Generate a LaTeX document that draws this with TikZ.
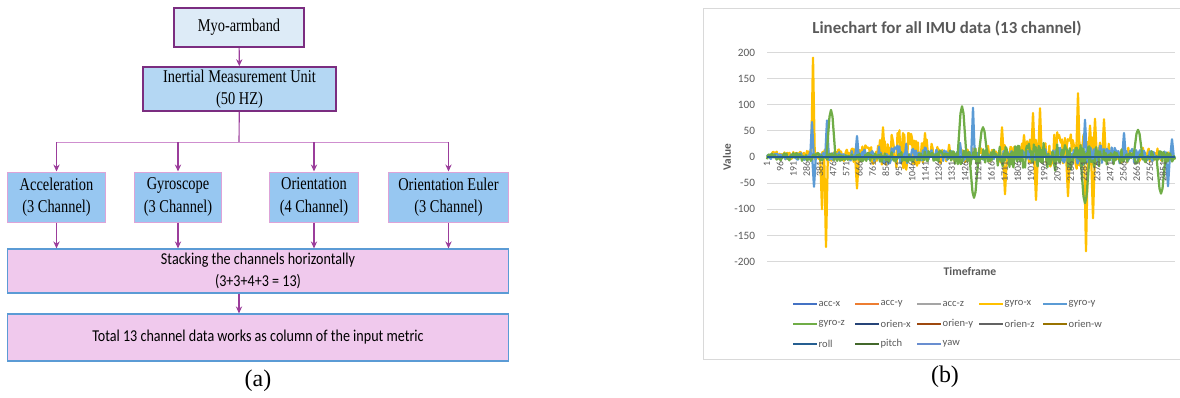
\documentclass[tikz,border=0pt]{standalone}
\usepackage{fontspec}
\usetikzlibrary{arrows.meta}
\setmainfont{Liberation Serif}
\newfontfamily\boxfont{Liberation Serif}[FakeStretch=0.8]
\newfontfamily\sansbox{Carlito}[FakeStretch=0.85]
\newfontfamily\chartfont{Carlito}
\definecolor{arrpurple}{HTML}{9B3D9B}
\definecolor{darkpurple}{HTML}{7B2D80}
\definecolor{buspink}{HTML}{CF8FCF}
\definecolor{lightblue}{HTML}{DDEBF7}
\definecolor{midblue}{HTML}{B4D7F3}
\definecolor{sensblue}{HTML}{97C7F1}
\definecolor{senspink}{HTML}{DDA3D8}
\definecolor{mergepink}{HTML}{F0C9ED}
\definecolor{mergeblue}{HTML}{5B9BD5}
\definecolor{gridgray}{HTML}{D9D9D9}
\definecolor{txtgray}{HTML}{595959}
\definecolor{accx}{HTML}{4472C4}
\definecolor{accy}{HTML}{ED7D31}
\definecolor{accz}{HTML}{A5A5A5}
\definecolor{gyrx}{HTML}{FFC000}
\definecolor{gyry}{HTML}{5B9BD5}
\definecolor{gyrz}{HTML}{70AD47}
\definecolor{orix}{HTML}{264478}
\definecolor{oriy}{HTML}{9E480E}
\definecolor{oriz}{HTML}{636363}
\definecolor{oriw}{HTML}{997300}
\definecolor{rollc}{HTML}{255E91}
\definecolor{pitchc}{HTML}{43682B}
\definecolor{yawc}{HTML}{698ED0}
\tikzset{
  flowbox/.style={rectangle, inner sep=0pt, align=center, font=\boxfont\fontsize{12.8}{16}\selectfont},
  topbox/.style={flowbox, draw=darkpurple, line width=1.1pt},
  sensbox/.style={flowbox, fill=sensblue, draw=senspink, line width=0.7pt, minimum height=1.25cm},
  mergebox/.style={rectangle, inner sep=0pt, align=center, fill=mergepink, draw=mergeblue, line width=0.8pt,
    minimum width=12.5cm, font=\sansbox\fontsize{11.8}{15.6}\selectfont},
  arr/.style={->, arrpurple, line width=0.8pt},
  series/.style={line width=1.6pt, line join=round},
  ticklab/.style={anchor=east, text=txtgray, font=\chartfont\fontsize{8}{9}\selectfont},
  catlab/.style={anchor=east, rotate=90, text=txtgray, inner sep=1pt, font=\chartfont\fontsize{7}{8}\selectfont},
  leglab/.style={anchor=west, inner sep=1pt, text=txtgray, font=\chartfont\fontsize{7.5}{9}\selectfont},
}
\begin{document}
\begin{tikzpicture}[x=0.025cm, y=-0.025cm, >={Stealth[length=5pt, width=4.5pt]}]
\useasboundingbox (0,0) rectangle (1180,397);
\begin{scope}
\node[topbox, fill=lightblue, minimum width=3.25cm, minimum height=0.975cm] (myo) at (239,27.5) {Myo-armband};
\node[topbox, fill=midblue, minimum width=4.825cm, minimum height=1.1cm] (imu) at (239.5,89) {Inertial Measurement Unit\\(50 HZ)};
\node[sensbox, minimum width=2.425cm] (acc) at (56.5,197) {Acceleration\\(3 Channel)};
\node[sensbox, minimum width=2.15cm] (gyro) at (178,197) {Gyroscope\\(3 Channel)};
\node[sensbox, minimum width=2.2cm] (orient) at (314,197) {Orientation\\(4 Channel)};
\node[sensbox, minimum width=2.975cm] (euler) at (448.5,197) {Orientation Euler\\(3 Channel)};
\node[mergebox, minimum height=1.1cm] (stack) at (258,271) {Stacking the channels horizontally\\(3+3+4+3 = 13)};
\node[mergebox, minimum height=1.175cm] (total) at (258,337.5) {Total 13 channel data works as column of the input metric};
\coordinate (bus) at (239,142);
\draw[arr] (myo) -- (imu);
\draw[arrpurple, line width=0.8pt] (imu) -- (bus);
\draw[buspink, line width=0.6pt] (acc.north |- bus) -- (euler.north |- bus);
\foreach \s in {acc, gyro, orient, euler}
{
    \draw[arr] (\s.north |- bus) -- (\s);
    \draw[arr] (\s) -- (\s.south |- stack.north);
}
\draw[arr] (stack.south -| bus) -- (total.north -| bus);
\node[font=\fontsize{17}{19}\selectfont, inner sep=0pt] (capa) at (258,381) {(a)};
\end{scope}
\begin{scope}
\draw[gridgray, line width=0.6pt] (1180,8) -- (703,8) -- (703,359) -- (1180,359);
\node[text=txtgray, font=\chartfont\bfseries\fontsize{12}{14}\selectfont] (title) at (947,29) {Linechart for all IMU data (13 channel)};
\foreach \v in {200,150,...,-200}
{
    \draw[gridgray, line width=0.6pt] (767,{157-0.523*\v}) -- (1175,{157-0.523*\v});
    \node[ticklab] (tick\v) at (760,{157-0.523*\v}) {\v};
}
\node[rotate=90, text=txtgray, font=\chartfont\bfseries\fontsize{8}{9}\selectfont] (ylab) at (727,157) {Value};
\node[text=txtgray, font=\chartfont\bfseries\fontsize{8.3}{10}\selectfont] (xlab) at (970,271) {Timeframe};
\pgfmathsetseed{11}
\draw[series, gyrx] plot[domain=767:1175, samples=420]
  (\x, {157-0.523*(7+32/(1+((\x-905)/25)*((\x-905)/25))+30/(1+((\x-1065)/40)*((\x-1065)/40)))*(rand+0.35)});
\foreach \px/\pv in {813/190, 822/-100, 826/-172, 857/-60, 883/57, 903/46, 925/46, 1002/57, 1005/-71,
  1024/42, 1033/84, 1036/-82, 1040/93, 1068/-75, 1078/122, 1086/-180, 1090/60, 1093/-117, 1095/73, 1104/72}
  \draw[series, gyrx] (\px-1.8,157) -- (\px,{157-0.523*\pv}) -- (\px+1.8,157);
\draw[series, gyry] plot[domain=767:1175, samples=420]
  (\x, {157-0.523*(5+16/(1+((\x-900)/30)*((\x-900)/30))+14/(1+((\x-1090)/45)*((\x-1090)/45)))*(rand+0.2)});
\foreach \px/\pv in {812/67, 814/-57, 827/70, 857/40, 960/27, 973/94, 1085/71, 1124/46, 1168/-56, 1172/34}
  \draw[series, gyry] (\px-1.8,157) -- (\px,{157-0.523*\pv}) -- (\px+1.8,157);
\draw[series, gyrz] plot[domain=767:1175, samples=420]
  (\x, {157-0.523*(6+22/(1+((\x-1045)/65)*((\x-1045)/65)))*rand});
\foreach \px/\pv in {831/90, 962/97, 974/-78, 983/57, 1085/-88, 1138/52, 1161/-70}
  \draw[series, gyrz] (\px-4.5,157) -- (\px-1.5,{157-0.45*\pv}) -- (\px,{157-0.523*\pv}) -- (\px+1.5,{157-0.45*\pv}) -- (\px+4.5,157);
\draw[series, rollc] (767,157) -- (1175,157);
\foreach \k in {0,...,30}
{
    \pgfmathtruncatemacro\lab{1+95*\k}
    \node[catlab] (cat\k) at ({767+13.2*\k},160) {\lab};
}
\foreach \i/\nm/\col/\lx/\ly in {1/acc-x/accx/793/304, 2/acc-y/accy/855/304, 3/acc-z/accz/917/304,
  4/gyro-x/gyrx/979/304, 5/gyro-y/gyry/1043/304, 6/gyro-z/gyrz/793/324, 7/orien-x/orix/855/324,
  8/orien-y/oriy/917/324, 9/orien-z/oriz/979/324, 10/orien-w/oriw/1043/324, 11/roll/rollc/793/344,
  12/pitch/pitchc/855/344, 13/yaw/yawc/917/344}
{
    \draw[\col, line width=1.5pt] (\lx,\ly) -- (\lx+24,\ly);
    \node[leglab] (leg\i) at (\lx+24,\ly) {\nm};
}
\node[font=\fontsize{17}{19}\selectfont, inner sep=0pt] (capb) at (945,377) {(b)};
\end{scope}
\end{tikzpicture}
\end{document}
